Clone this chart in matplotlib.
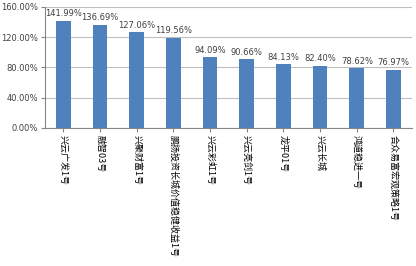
import matplotlib
matplotlib.use('Agg')
import matplotlib.pyplot as plt
from matplotlib.ticker import FuncFormatter

plt.rcParams['font.family'] = ['Noto Sans CJK SC', 'DejaVu Sans']

names = ['兴云广发1号', '融智03号', '兴聚财富1号', '鹏扬投资长城价值稳健收益1号',
         '兴云彩虹1号', '兴云亮剑1号', '龙平01号', '兴云长城', '鸿道稳进一号', '合众易富宏观策略1号']
values = [141.99, 136.69, 127.06, 119.56, 94.09, 90.66, 84.13, 82.40, 78.62, 76.97]

fig = plt.figure(figsize=(4.16, 2.66), dpi=100)
ax = fig.add_axes([0.108, 0.519, 0.882, 0.455])
x = range(len(values))
bars = ax.bar(x, values, width=0.4, color='#4F81BD', zorder=3)
for xi, v in zip(x, values):
    ax.text(xi, v + 3, '%.2f%%' % v, ha='center', va='bottom', fontsize=6, color='#404040',
            family='DejaVu Sans')
ax.set_ylim(0, 160)
ax.set_xlim(-0.5, len(values) - 0.5)
ax.set_yticks([0, 40, 80, 120, 160])
ax.yaxis.set_major_formatter(FuncFormatter(lambda v, p: '%.2f%%' % v))
ax.grid(axis='y', color='#BFBFBF', lw=0.8, zorder=0)
ax.set_xticks(list(x))
ax.set_xticklabels(names, rotation=270, fontsize=6.5, va='top', ha='center')
for s in ['top', 'right']:
    ax.spines[s].set_visible(False)
ax.spines['left'].set_color('#868686')
ax.spines['bottom'].set_color('#868686')
ax.tick_params(axis='y', labelsize=6, length=3, pad=2, colors='#404040', color='#868686')
for lbl in ax.get_yticklabels():
    lbl.set_family('DejaVu Sans')
ax.tick_params(axis='x', length=3, color='#868686', pad=2)
fig.savefig('out.png', dpi=100)
